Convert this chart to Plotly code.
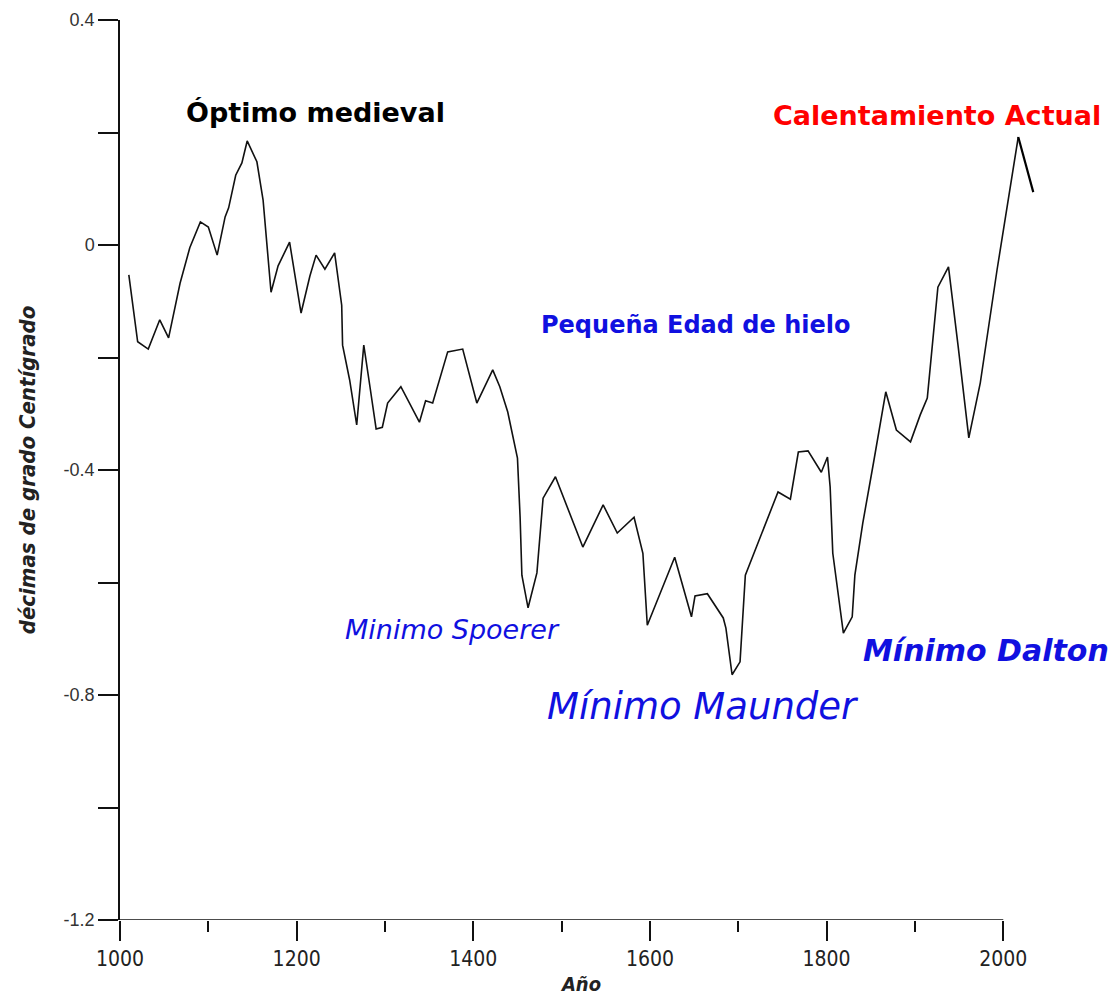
import plotly.graph_objects as go

# Reconstructed temperature anomaly series
years = [1010, 1020, 1032, 1045, 1055, 1068, 1079, 1091, 1100, 1110,
         1119, 1123, 1131, 1138, 1144, 1155, 1162, 1171, 1179, 1192,
         1205, 1215, 1222, 1232, 1243, 1251, 1252, 1260, 1268, 1276,
         1283, 1290, 1297, 1303, 1318, 1339, 1346, 1354, 1371, 1388,
         1404, 1422, 1430, 1439, 1450, 1453, 1455, 1462, 1472, 1479,
         1493, 1524, 1547, 1563, 1582, 1592, 1597, 1628, 1647, 1651,
         1665, 1683, 1686, 1693, 1702, 1708, 1745, 1759, 1768, 1779,
         1794, 1801, 1804, 1807, 1819, 1829, 1832, 1841, 1853, 1867,
         1879, 1895, 1906, 1914, 1926, 1938, 1949, 1961, 1974, 1993,
         2017, 2034]
values = [-0.053, -0.172, -0.185, -0.133, -0.165, -0.068, -0.005, 0.041, 0.032, -0.018,
          0.050, 0.066, 0.124, 0.146, 0.185, 0.148, 0.080, -0.084, -0.037, 0.005,
          -0.121, -0.055, -0.018, -0.043, -0.014, -0.107, -0.178, -0.240, -0.320, -0.178,
          -0.252, -0.327, -0.324, -0.281, -0.252, -0.315, -0.277, -0.281, -0.190, -0.185,
          -0.281, -0.222, -0.252, -0.297, -0.379, -0.484, -0.587, -0.645, -0.583, -0.450,
          -0.412, -0.537, -0.462, -0.512, -0.484, -0.548, -0.676, -0.555, -0.661, -0.624,
          -0.620, -0.663, -0.681, -0.764, -0.741, -0.587, -0.439, -0.452, -0.368, -0.366,
          -0.404, -0.377, -0.430, -0.548, -0.690, -0.661, -0.587, -0.494, -0.388, -0.261,
          -0.329, -0.350, -0.302, -0.272, -0.075, -0.039, -0.181, -0.343, -0.245, -0.044,
          0.192, 0.094]

x_ticks = [1000, 1200, 1400, 1600, 1800, 2000]
x_minor = [1100, 1300, 1500, 1700, 1900]
y_ticks = [0.4, 0.0, -0.4, -0.8, -1.2]
y_tick_labels = ["0.4", "0", "-0.4", "-0.8", "-1.2"]
y_minor = [0.2, -0.2, -0.6, -1.0]

labels = [
    # text, x, y, color, size, bold, italic
    ("Óptimo medieval", 1221, 0.236, "#000000", 27, True, False),
    ("Calentamiento Actual", 1925, 0.231, "#ff0000", 27, True, False),
    ("Pequeña Edad de hielo", 1652, -0.142, "#1010e0", 24, True, False),
    ("Minimo Spoerer", 1377, -0.684, "#1010e0", 27, False, True),
    ("Mínimo Maunder", 1660, -0.821, "#1010e0", 37, False, True),
    ("Mínimo Dalton", 1980, -0.72, "#1010e0", 30, True, True),
]

narrow = "Liberation Sans Narrow, DejaVu Sans Condensed, Arial Narrow, Liberation Sans"

fig = go.Figure()
fig.add_trace(go.Scatter(x=years[:-1], y=values[:-1], mode="lines",
                         line=dict(color="#111111", width=1.6), hoverinfo="skip"))
fig.add_trace(go.Scatter(x=years[-2:], y=values[-2:], mode="lines",
                         line=dict(color="#000000", width=2.2), hoverinfo="skip"))

for text, lx, ly, col, size, bold, italic in labels:
    t = text
    if bold:
        t = "<b>" + t + "</b>"
    if italic:
        t = "<i>" + t + "</i>"
    fig.add_annotation(x=lx, y=ly, xref="x", yref="y", text=t, showarrow=False,
                       xanchor="center", yanchor="middle",
                       font=dict(family="DejaVu Sans, Liberation Sans, Arial", size=size, color=col))

# x axis line only spans 1000..2000
fig.add_shape(type="line", xref="x", yref="y", x0=x_ticks[0], x1=x_ticks[-1],
              y0=y_ticks[-1], y1=y_ticks[-1], line=dict(color="#111111", width=1.5))

fig.update_layout(
    width=1118, height=995, autosize=False,
    margin=dict(l=112, r=83, t=12, b=83, autoexpand=False),
    paper_bgcolor="white", plot_bgcolor="white",
    showlegend=False,
    font=dict(family="Liberation Sans, Arial", color="#222222"),
    xaxis=dict(range=[1000, 2045], automargin=False, showline=False, showgrid=False,
               zeroline=False,
               tickmode="array", tickvals=x_ticks, ticks="outside", ticklen=20,
               tickwidth=1.5, tickcolor="#111111",
               tickfont=dict(family=narrow, size=21, color="#222222"),
               minor=dict(tickmode="array", tickvals=x_minor, ticks="outside",
                          ticklen=11, tickwidth=1.5, tickcolor="#111111"),
               title=dict(text="<b><i>Año</i></b>",
                          font=dict(family=narrow, size=20, color="#222222"),
                          standoff=6)),
    yaxis=dict(range=[-1.2, 0.4], automargin=False, showline=True, linecolor="#111111",
               linewidth=1.5, showgrid=False, zeroline=False,
               tickmode="array", tickvals=y_ticks, ticktext=y_tick_labels,
               ticks="outside", ticklen=20, tickwidth=1.5, tickcolor="#111111",
               tickfont=dict(size=18, color="#333333"),
               minor=dict(tickmode="array", tickvals=y_minor, ticks="outside",
                          ticklen=20, tickwidth=1.5, tickcolor="#111111"),
               title=dict(text="<b><i>décimas de grado Centígrado</i></b>",
                          font=dict(family=narrow, size=22, color="#222222"),
                          standoff=22)),
)

fig.write_html("out.html")
